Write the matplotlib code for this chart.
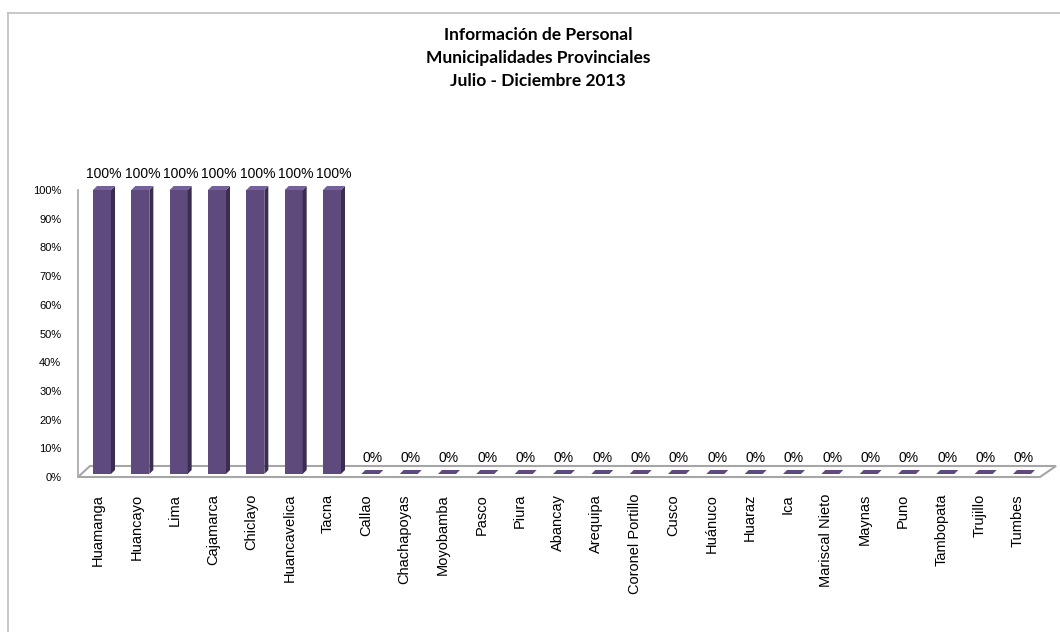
import numpy as np
import matplotlib.pyplot as plt
from matplotlib.patches import Polygon
from matplotlib.lines import Line2D

municipios = ['Huamanga', 'Huancayo', 'Lima', 'Cajamarca', 'Chiclayo', 'Huancavelica',
              'Tacna', 'Callao', 'Chachapoyas', 'Moyobamba', 'Pasco', 'Piura', 'Abancay',
              'Arequipa', 'Coronel Portillo', 'Cusco', 'Huánuco', 'Huaraz', 'Ica',
              'Mariscal Nieto', 'Maynas', 'Puno', 'Tambopata', 'Trujillo', 'Tumbes']
porcentaje = [1, 1, 1, 1, 1, 1, 1, 0, 0, 0, 0, 0, 0, 0, 0, 0, 0, 0, 0, 0, 0, 0, 0, 0, 0]
ticks = np.arange(0, 1.01, 0.1)
titulo = 'Información de Personal\nMunicipalidades Provinciales\nJulio - Diciembre 2013'

plt.rcParams['font.family'] = ['Liberation Sans', 'DejaVu Sans']

W, H = 1060, 632
fig = plt.figure(figsize=(W / 100, H / 100), dpi=100)

# axes in pixel coords: x 78..1040, y 190 (100%)..477 (0%)
x0, x1, ytop, ybot = 78, 1040, 190, 477
ax = fig.add_axes([x0 / W, (H - ybot) / H, (x1 - x0) / W, (ybot - ytop) / H])
n = len(municipios)
step = (1023 - 103) / (n - 1)
ax.set_xlim(-(103 - x0) / step, (n - 1) + (x1 - 1023) / step)
ax.set_ylim(0, 1)
for s in ax.spines.values():
    s.set_visible(False)
ax.set_xticks([])
ax.set_yticks(ticks)
ax.set_yticklabels(['%d%%' % round(t * 100) for t in ticks], fontsize=8)
ax.tick_params(axis='y', length=0, pad=12)

px = 1.0 / step            # one pixel in x data units
py = 1.0 / (ybot - ytop)   # one pixel in y data units

# floor / walls
gris = '#a6a6a6'
xl, xr = ax.get_xlim()
ax.add_line(Line2D([xl, xl], [0, 1], color=gris, lw=1.2, clip_on=False))
ax.add_patch(Polygon([(xl, 0), (xr, 0), (xr + 16 * px, 11 * py), (xl + 12 * px, 11 * py)],
                     closed=True, facecolor='white', edgecolor=gris, lw=1.5, clip_on=False))

frente, lado, tapa = '#5e4a7d', '#3a2d50', '#75629a'
w = 18 * px
sx, sy = 4 * px, 4 * py
base = 3 * py
for i, v in enumerate(porcentaje):
    c = i - 1 * px
    a, b = c - w / 2, c + w / 2
    y0, y1 = base, base + v * (1 - base)
    if v > 0:
        ax.add_patch(Polygon([(a, y0), (b, y0), (b, y1), (a, y1)], closed=True,
                             facecolor=frente, edgecolor='none', clip_on=False))
        ax.add_patch(Polygon([(b, y0), (b + sx, y0 + sy), (b + sx, y1 + sy), (b, y1)],
                             closed=True, facecolor=lado, edgecolor='none', clip_on=False))
    ax.add_patch(Polygon([(a, y1), (b, y1), (b + sx, y1 + sy), (a + sx, y1 + sy)],
                         closed=True, facecolor=tapa if v > 0 else frente,
                         edgecolor='none', clip_on=False))
    ax.text(c + 2 * px, y1 + 9 * py, '%d%%' % round(v * 100), ha='center', va='bottom',
            fontsize=10, clip_on=False)
    ax.text(c - 4 * px, -17 * py, municipios[i], rotation=90, ha='center', va='top',
            fontsize=10.5, clip_on=False)

fig.text(538 / W, 1 - 58 / H, titulo, ha='center', va='center', fontsize=12.5,
         fontweight='bold', linespacing=1.55, family=['Lato', 'DejaVu Sans'])

# outer frame
fig.add_artist(Line2D([8 / W, 8 / W], [0, 1 - 13 / H], color='#bfbfbf', lw=1.2))
fig.add_artist(Line2D([8 / W, 1], [1 - 13 / H, 1 - 13 / H], color='#bfbfbf', lw=1.2))

fig.savefig('out.png', dpi=100)
